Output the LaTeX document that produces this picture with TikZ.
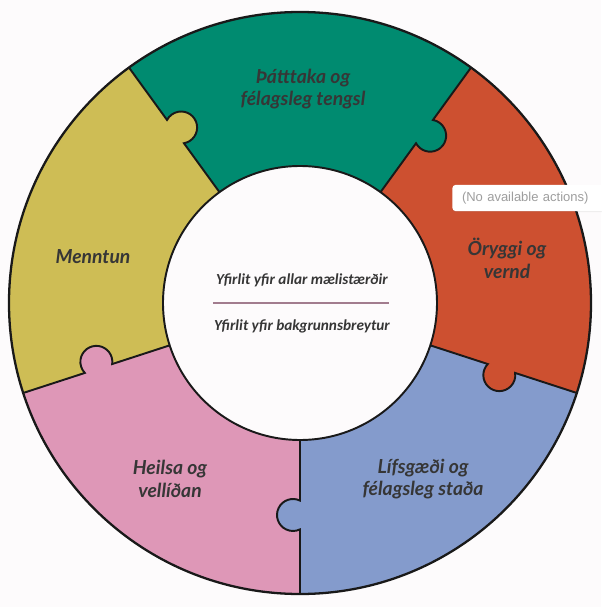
\documentclass[tikz,border=0pt]{standalone}
\usepackage{fontspec}
\setmainfont{Lato}
\newfontfamily\centerfont{Carlito}
\newfontfamily\tipfont{Liberation Sans}
\usepackage{tikz}
\usetikzlibrary{positioning, shadows}

\definecolor{bgpaper}{HTML}{FDFBFC}
\definecolor{segteal}{HTML}{008B70}
\definecolor{segrust}{HTML}{CD5030}
\definecolor{segblue}{HTML}{849BCC}
\definecolor{segpink}{HTML}{DE97B7}
\definecolor{segolive}{HTML}{CEBD55}
\definecolor{inktext}{HTML}{363636}
\definecolor{rulemauve}{HTML}{A27C8E}

\begin{document}
\begin{tikzpicture}[scale=0.02,
    rim/.style={line width=1.1pt, draw=black!90},
    seglabel/.style={font=\bfseries\itshape\fontsize{11}{13}\selectfont, text=inktext, align=center},
    midlabel/.style={font=\centerfont\bfseries\itshape\fontsize{8.7}{9}\selectfont, text=inktext},
    tipbox/.style={fill=white, rounded corners=2pt, minimum height=15pt, text width=80pt,
        inner xsep=5.5pt, align=left, font=\tipfont\fontsize{7.4}{8}\selectfont, text=black!38,
        drop shadow={shadow xshift=0pt, shadow yshift=-0.6pt, opacity=0.12}}]
    \useasboundingbox[fill=bgpaper] (-300,-304) rectangle (301,303);
    % Ring sectors
    \fill[segrust] (0,0) -- (-18:291) arc[start angle=-18, end angle=54, radius=291] -- cycle;
    \fill[segteal] (0,0) -- (54:291) arc[start angle=54, end angle=126, radius=291] -- cycle;
    \fill[segolive] (0,0) -- (126:291) arc[start angle=126, end angle=198, radius=291] -- cycle;
    \fill[segpink] (0,0) -- (198:291) arc[start angle=198, end angle=270, radius=291] -- cycle;
    \fill[segblue] (0,0) -- (270:291) arc[start angle=270, end angle=342, radius=291] -- cycle;
    % Puzzle joints (knob bulges clockwise into the next sector)
    \begin{scope}[rotate=54]
        \fill[segteal] (212,-7) circle[radius=16];
        \draw[rim] (137,0) -- (197.6,0) arc[start angle=154.1, end angle=385.9, radius=16] -- (291,0);
    \end{scope}
    \begin{scope}[rotate=126]
        \fill[segolive] (212,-7) circle[radius=16];
        \draw[rim] (137,0) -- (197.6,0) arc[start angle=154.1, end angle=385.9, radius=16] -- (291,0);
    \end{scope}
    \begin{scope}[rotate=198]
        \fill[segpink] (212,-7) circle[radius=16];
        \draw[rim] (137,0) -- (197.6,0) arc[start angle=154.1, end angle=385.9, radius=16] -- (291,0);
    \end{scope}
    \begin{scope}[rotate=270]
        \fill[segblue] (212,-7) circle[radius=16];
        \draw[rim] (137,0) -- (197.6,0) arc[start angle=154.1, end angle=385.9, radius=16] -- (291,0);
    \end{scope}
    \begin{scope}[rotate=342]
        \fill[segrust] (212,-7) circle[radius=16];
        \draw[rim] (137,0) -- (197.6,0) arc[start angle=154.1, end angle=385.9, radius=16] -- (291,0);
    \end{scope}
    % Inner disc and outer rim
    \filldraw[rim, fill=bgpaper] (0,0) circle[radius=137];
    \draw[rim, line width=1.3pt] (0,0) circle[radius=291];
    % Sector labels
    \node[seglabel] (teal) at (3,214) {Þátttaka og\\félagsleg tengsl};
    \node[seglabel] (rust) at (207,45) {Öryggi og\\vernd};
    \node[seglabel] (blue) at (123,-176) {Lífsgæði og\\félagsleg staða};
    \node[seglabel] (pink) at (-130,-176) {Heilsa og\\vellíðan};
    \node[seglabel] (olive) at (-207,46) {Menntun};
    % Centre links
    \node[midlabel] (all) at (2,23) {Yfirlit yfir allar mælistærðir};
    \node[midlabel] (bkg) at (2,-23) {Yfirlit yfir bakgrunnsbreytur};
    \draw[rulemauve, line width=1.1pt] (-87,0) -- (89,0);
    % Tooltip
    \node[tipbox, anchor=west] (tip) at (152,105) {(No available actions)};
\end{tikzpicture}
\end{document}
